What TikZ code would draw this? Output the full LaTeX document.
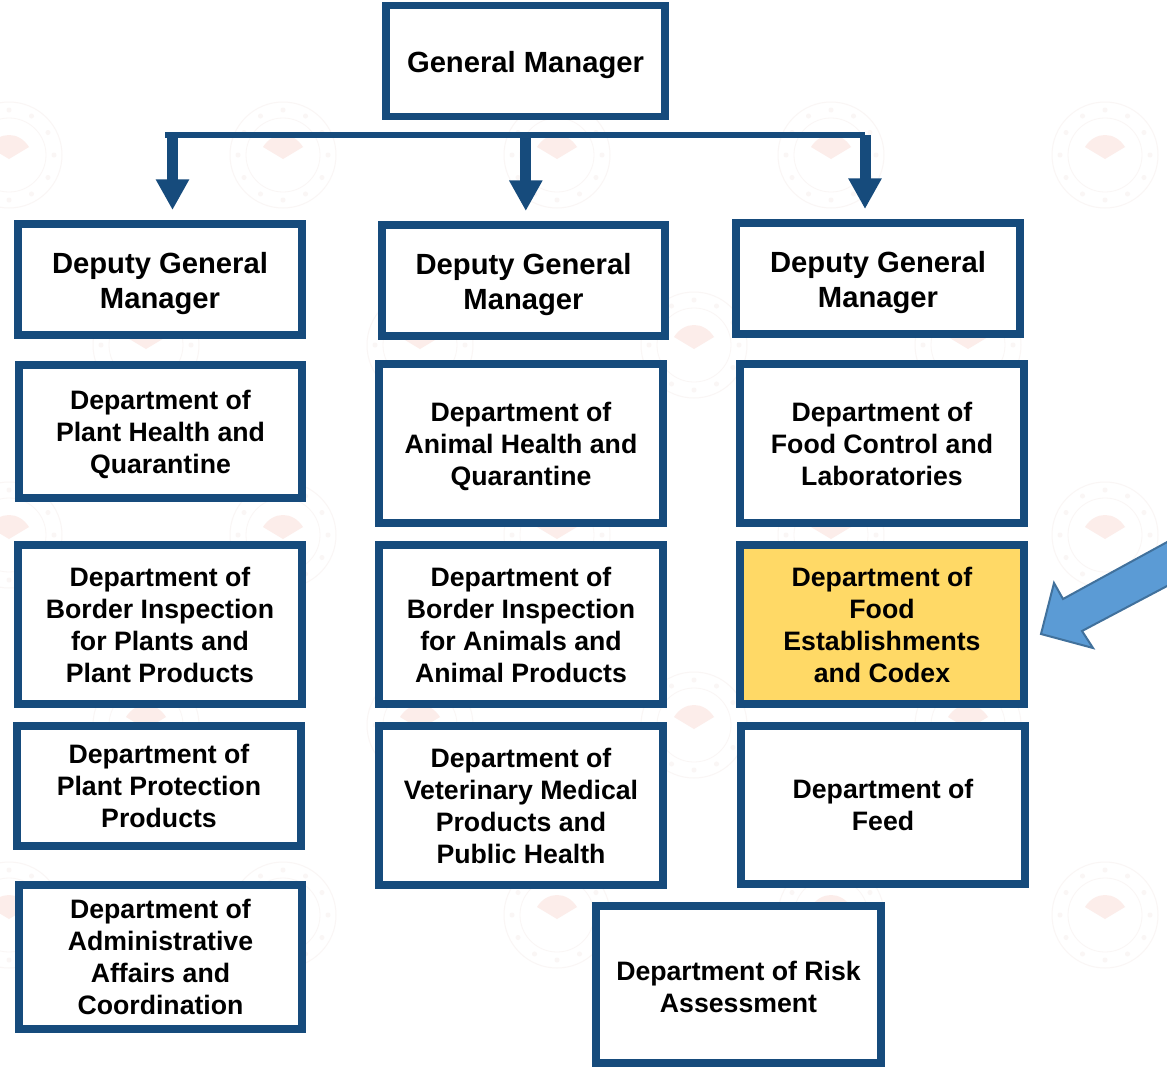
\documentclass[tikz,border=0pt]{standalone}
\usepackage{fontspec}
\setmainfont{Liberation Sans}
\usetikzlibrary{arrows.meta}
\definecolor{navy}{HTML}{164B7C}
\definecolor{gold}{HTML}{FFD966}
\definecolor{pointer}{HTML}{5B9BD5}
\definecolor{pointeredge}{HTML}{41719C}
\definecolor{sealring}{HTML}{FAF6F5}
\definecolor{sealfan}{HTML}{FCEDEA}
\tikzset{
  orgbox/.style={draw=navy, line width=5.7pt, fill=white, align=center, inner sep=0pt, text depth=0pt,
    font=\bfseries\fontsize{20}{24}\selectfont},
  chief/.style={orgbox, text height=44pt, font=\bfseries\fontsize{21.9}{26.25}\selectfont},
  feeder/.style={line width=8.25pt, draw=navy, shorten >=7.5pt, -{Triangle[length=23pt,width=23.5pt]}},
}
\newcommand{\seal}[2]{%
  \draw[sealring, line width=0.75pt] (#1,#2) circle[radius=53];
  \draw[sealring, line width=0.6pt] (#1,#2) circle[radius=37];
  \fill[sealfan] (#1-20,#2-8) .. controls (#1-10,#2-24) and (#1+10,#2-24) .. (#1+20,#2-8) -- (#1,#2+4) -- cycle;
  \foreach \ang in {0,30,...,330}
    \fill[sealring] (#1,#2) ++(\ang:45) circle[radius=2.5];
}
\begin{document}
\begin{tikzpicture}[x=0.75pt,y=-0.75pt]
  \useasboundingbox (0,0) rectangle (1167,1067);
  \fill[white] (0,0) rectangle (1167,1067);
  % watermark
  \foreach \px in {9,283,557,831,1105}
    \foreach \py in {155,535,915}
      \seal{\px}{\py};
  \foreach \px in {146,420,694,968}
    \foreach \py in {345,725}
      \seal{\px}{\py};
  % top
  \node[chief, text height=17.5pt, minimum width=209.5pt, minimum height=83pt] (gm) at (525.5,61) {General Manager};
  % deputies
  \node[chief, minimum width=213.3pt, minimum height=83.5pt] (dgmA) at (160,279.5) {Deputy General\\Manager};
  \node[chief, minimum width=212.5pt, minimum height=83.5pt] (dgmB) at (523.5,280.5) {Deputy General\\Manager};
  \node[chief, minimum width=213.3pt, minimum height=83.5pt] (dgmC) at (878,278.5) {Deputy General\\Manager};
  % left column
  \node[orgbox, minimum width=212.5pt, minimum height=100pt] (plantA) at (160.5,431.5) {Department of\\Plant Health and\\Quarantine};
  \node[orgbox, minimum width=213.3pt, minimum height=119.5pt] (plantB) at (160,624.5) {Department of\\Border Inspection\\for Plants and\\Plant Products};
  \node[orgbox, minimum width=213.3pt, minimum height=90.3pt] (plantC) at (159,786) {Department of\\Plant Protection\\Products};
  \node[orgbox, minimum width=212.5pt, minimum height=108.3pt] (plantD) at (160.5,957) {Department of\\Administrative\\Affairs and\\Coordination};
  % middle column
  \node[orgbox, minimum width=213.3pt, minimum height=119.5pt] (animalA) at (521,443.5) {Department of\\Animal Health and\\Quarantine};
  \node[orgbox, minimum width=213.3pt, minimum height=119.5pt] (animalB) at (521,624.5) {Department of\\Border Inspection\\for Animals and\\Animal Products};
  \node[orgbox, minimum width=213.3pt, minimum height=119.5pt] (animalC) at (521,805.5) {Department of\\Veterinary Medical\\Products and\\Public Health};
  % right column
  \node[orgbox, minimum width=213.3pt, minimum height=119.5pt] (foodA) at (882,443.5) {Department of\\Food Control and\\Laboratories};
  \node[orgbox, fill=gold, minimum width=213.3pt, minimum height=119.5pt] (foodB) at (882,624.5) {Department of\\Food\\Establishments\\and Codex};
  \node[orgbox, minimum width=213.3pt, minimum height=118.8pt] (foodC) at (883,805) {Department of\\Feed};
  \node[orgbox, text height=41.5pt, minimum width=213.8pt, minimum height=118pt] (risk) at (738.5,984.5) {Department of Risk\\Assessment};
  % connectors
  \coordinate (busL) at (165,135);
  \coordinate (busR) at (865,135);
  \coordinate (busA) at (172.5,135);
  \coordinate (busB) at (525.8,135);
  \coordinate (busC) at (865,135);
  \draw[navy, line width=4.5pt] (busL) -- (busR);
  \draw[feeder] (busA) -- (busA |- dgmA.north);
  \draw[feeder] (busB) -- (busB |- dgmB.north);
  \draw[feeder] (busC) -- (busC |- dgmC.north);
  % pointer
  \draw[fill=pointer, draw=pointeredge, line width=1.5pt, line join=miter] (1169,541) -- (1063,599) -- (1054,583) -- (1041,634) -- (1093,648) -- (1082,631) -- (1169,585) -- cycle;
\end{tikzpicture}
\end{document}
